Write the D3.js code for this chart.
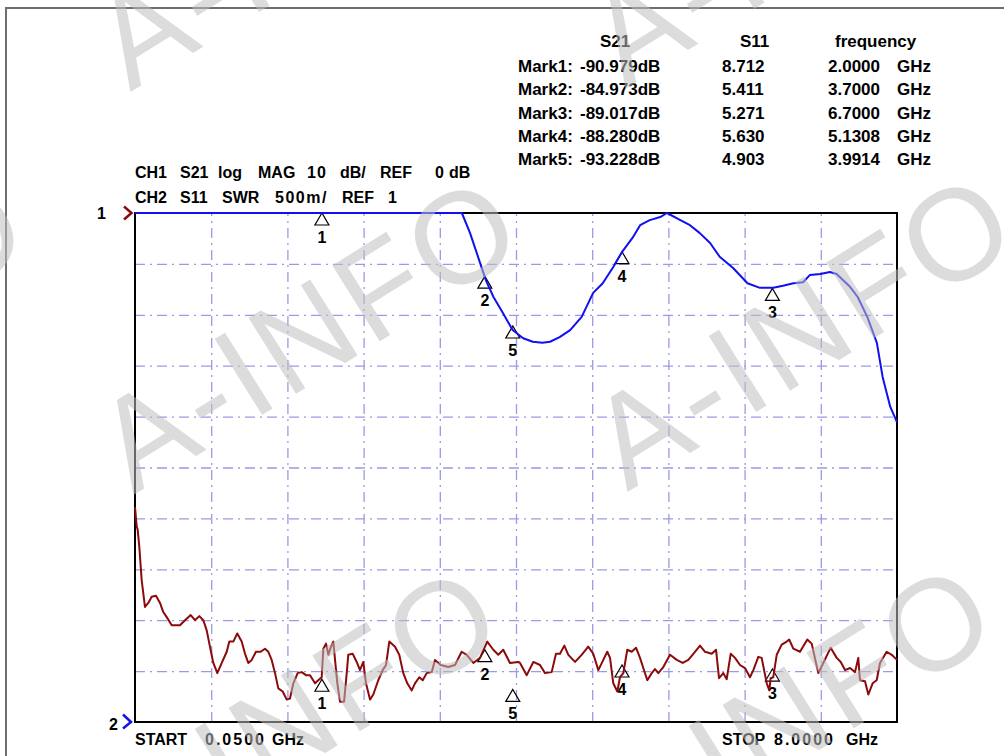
<!DOCTYPE html>
<html><head><meta charset="utf-8">
<script src="https://cdn.jsdelivr.net/npm/d3@7"></script>
<style>html,body{margin:0;padding:0;background:#fff;overflow:hidden}</style>
</head><body><svg id="c" width="1004" height="756"></svg>
<script>
// ---------------- DATA ----------------
const startGHz = 0.05, stopGHz = 8.0;
const ch1Label = ["CH1","S21","log","MAG","10","dB/","REF","0","dB"];
const ch2Label = ["CH2","S11","SWR","500m/","REF","1"];
const tableHeads = ["S21","S11","frequency"];
const markerNames = ["1","2","3","4","5"];
const markerFreq = [2.0, 3.7, 6.7, 5.1308, 3.9914];
const markerS21Disp = [0, -12.4, -14.8, -7.6, -22.2];   // dB (display)
const markerS11Disp = [1.42, 1.71, 1.52, 1.56, 1.32];   // SWR (display)
const readS21 = ["-90.979dB","-84.973dB","-89.017dB","-88.280dB","-93.228dB"];
const readS11 = ["8.712","5.411","5.271","5.630","4.903"];
const readFreq = ["2.0000","3.7000","6.7000","5.1308","3.9914"];
const startLabel = ["START","0.0500","GHz"];
const stopLabel = ["STOP","8.0000","GHz"];

// CH1 S21 trace: [GHz, dB]
const s21Trace = [[0.05,0],[3.46,0],[3.545,-3.9],[3.65,-9.8],[3.71,-13.2],[3.79,-16.5],[3.89,-19.7],
 [3.99,-23.0],[4.10,-24.6],[4.20,-25.3],[4.30,-25.5],[4.38,-25.3],[4.48,-24.4],[4.59,-23.0],[4.71,-20.4],
 [4.83,-15.7],[4.93,-13.8],[5.04,-10.6],[5.13,-7.7],[5.24,-4.9],[5.32,-2.4],[5.42,-1.4],[5.53,-0.8],
 [5.60,0],[5.74,-1.4],[5.84,-2.4],[5.94,-3.9],[6.05,-5.9],[6.15,-8.6],[6.29,-10.8],[6.44,-13.8],
 [6.57,-14.7],[6.71,-14.7],[6.81,-14.3],[6.92,-13.8],[7.02,-13.6],[7.09,-12.2],[7.20,-12.0],[7.30,-11.6],
 [7.37,-12.0],[7.51,-14.5],[7.59,-16.5],[7.69,-20.4],[7.79,-25.5],[7.85,-32.2],[7.93,-38.1],[8.0,-41.1]];

// CH2 S11 trace: [GHz, SWR]
const s11Trace = [[0.05,3.11],[0.068,2.92],[0.078,2.89],[0.095,2.72],[0.12,2.39],[0.137,2.26],[0.154,2.13],
 [0.189,2.17],[0.224,2.23],[0.269,2.24],[0.311,2.17],[0.345,2.08],[0.381,2.03],[0.433,1.95],[0.519,1.95],
 [0.572,2.00],[0.631,2.05],[0.676,2.00],[0.721,2.04],[0.763,2.00],[0.798,1.90],[0.832,1.74],[0.867,1.58],
 [0.909,1.48],[0.955,1.58],[1.007,1.69],[1.034,1.79],[1.076,1.79],[1.117,1.87],[1.163,1.79],[1.198,1.67],
 [1.232,1.58],[1.268,1.61],[1.312,1.69],[1.361,1.69],[1.406,1.72],[1.441,1.69],[1.476,1.61],[1.511,1.48],
 [1.545,1.33],[1.591,1.30],[1.633,1.22],[1.667,1.23],[1.702,1.38],[1.747,1.48],[1.789,1.49],[1.834,1.46],
 [1.876,1.46],[1.928,1.38],[1.962,1.41],[1.998,1.44],[2.015,1.72],[2.043,1.77],[2.067,1.66],[2.095,1.74],
 [2.119,1.79],[2.137,1.61],[2.161,1.38],[2.189,1.20],[2.231,1.20],[2.259,1.48],[2.275,1.66],[2.321,1.67],
 [2.363,1.59],[2.397,1.51],[2.432,1.59],[2.460,1.38],[2.502,1.22],[2.536,1.27],[2.588,1.41],[2.634,1.51],
 [2.669,1.56],[2.703,1.79],[2.763,1.74],[2.807,1.66],[2.849,1.48],[2.891,1.38],[2.937,1.31],[2.971,1.38],
 [3.016,1.44],[3.052,1.41],[3.093,1.48],[3.146,1.49],[3.180,1.61],[3.239,1.56],[3.319,1.54],[3.389,1.56],
 [3.458,1.69],[3.511,1.66],[3.580,1.58],[3.649,1.63],[3.725,1.79],[3.788,1.71],[3.840,1.66],[3.892,1.71],
 [3.962,1.58],[4.049,1.59],[4.067,1.58],[4.137,1.46],[4.206,1.59],[4.275,1.56],[4.328,1.48],[4.397,1.49],
 [4.442,1.67],[4.484,1.67],[4.529,1.75],[4.571,1.66],[4.641,1.59],[4.710,1.66],[4.779,1.74],[4.831,1.67],
 [4.884,1.51],[4.936,1.61],[4.977,1.69],[5.006,1.63],[5.040,1.38],[5.082,1.30],[5.110,1.44],[5.145,1.48],
 [5.186,1.71],[5.232,1.69],[5.277,1.73],[5.319,1.63],[5.353,1.53],[5.395,1.41],[5.441,1.48],[5.475,1.52],
 [5.510,1.48],[5.562,1.54],[5.632,1.66],[5.702,1.61],[5.764,1.58],[5.823,1.61],[5.875,1.67],[5.945,1.75],
 [5.997,1.69],[6.067,1.67],[6.112,1.71],[6.143,1.43],[6.188,1.48],[6.223,1.42],[6.265,1.67],[6.310,1.63],
 [6.362,1.56],[6.414,1.53],[6.466,1.44],[6.501,1.51],[6.553,1.64],[6.588,1.63],[6.641,1.38],[6.668,1.31],
 [6.682,1.43],[6.709,1.44],[6.745,1.66],[6.797,1.76],[6.849,1.79],[6.876,1.81],[6.918,1.72],[6.988,1.69],
 [7.064,1.81],[7.110,1.77],[7.179,1.48],[7.231,1.58],[7.308,1.73],[7.371,1.63],[7.413,1.59],[7.458,1.51],
 [7.510,1.53],[7.562,1.49],[7.596,1.63],[7.614,1.41],[7.666,1.40],[7.701,1.27],[7.746,1.38],[7.788,1.41],
 [7.823,1.58],[7.892,1.69],[7.945,1.66],[8.0,1.61]];

// ---------------- LAYOUT ----------------
const L = 135, R = 897, T = 213, B = 722;
const svg = d3.select("#c");
const font = "'Liberation Sans', Arial, sans-serif";

const x = d3.scaleLinear().domain([startGHz, stopGHz]).range([L, R]);
const y1 = d3.scaleLinear().domain([-100, 0]).range([B, T]);   // 10 dB/div, REF 0 dB at top
const y2 = d3.scaleLinear().domain([1, 6]).range([B, T]);      // 500m/div, REF 1 at bottom

// outer frame
svg.append("rect").attr("x", 6).attr("y", 8).attr("width", 1100).attr("height", 800)
  .attr("fill", "none").attr("stroke", "#6e6e6e").attr("stroke-width", 2);

// grid
const xTicks = d3.range(1, 10).map(i => startGHz + i * (stopGHz - startGHz) / 10);
const yTicks = d3.range(-90, 0, 10);
const gridColor = "#9a9ae6";
const gx = svg.append("g").attr("transform", `translate(0,${B})`)
  .call(d3.axisBottom(x).tickValues(xTicks).tickSize(-(B - T)).tickFormat(""));
const gy = svg.append("g").attr("transform", `translate(${L},0)`)
  .call(d3.axisLeft(y1).tickValues(yTicks).tickSize(-(R - L)).tickFormat(""));
[gx, gy].forEach(g => {
  g.select(".domain").remove();
  g.selectAll(".tick line").attr("stroke", gridColor).attr("stroke-width", 1.3)
    .attr("stroke-dasharray", "10,5,2,5");
});

// plot frame
svg.append("rect").attr("x", L).attr("y", T).attr("width", R - L).attr("height", B - T)
  .attr("fill", "none").attr("stroke", "#000").attr("stroke-width", 2);

// markers
function tri(px, py) {
  return `M${px},${py} L${px - 7},${py + 12} L${px + 7},${py + 12} Z`;
}
const mk = svg.append("g");
markerFreq.forEach((f, i) => {
  [[x(f), y1(markerS21Disp[i])], [x(f), y2(markerS11Disp[i])]].forEach(([px, py]) => {
    mk.append("path").attr("d", tri(px, py)).attr("fill", "none")
      .attr("stroke", "#000").attr("stroke-width", 1.2);
    mk.append("text").attr("x", px).attr("y", py + 30).attr("text-anchor", "middle")
      .attr("font-family", font).attr("font-weight", "bold").attr("font-size", 16)
      .attr("fill", "#000").text(markerNames[i]);
  });
});

// traces
svg.append("defs").append("clipPath").attr("id", "clip").append("rect")
  .attr("x", L - 2).attr("y", T - 2).attr("width", R - L + 4).attr("height", B - T + 4);
const lineS11 = d3.line().x(d => x(d[0])).y(d => y2(d[1]));
const lineS21 = d3.line().x(d => x(d[0])).y(d => y1(d[1]));
svg.append("path").attr("d", lineS11(s11Trace)).attr("fill", "none")
  .attr("stroke", "#8b0a0a").attr("stroke-width", 2).attr("stroke-linejoin", "round")
  .attr("clip-path", "url(#clip)");
svg.append("path").attr("d", lineS21(s21Trace)).attr("fill", "none")
  .attr("stroke", "#1010f0").attr("stroke-width", 2).attr("stroke-linejoin", "round")
  .attr("clip-path", "url(#clip)");

// reference markers on the left
svg.append("text").attr("x", 97).attr("y", y1(0) + 6).attr("font-family", font)
  .attr("font-weight", "bold").attr("font-size", 16).attr("fill", "#000").text("1");
svg.append("path").attr("d", `M124,${y1(0) - 6.5} L131.5,${y1(0)} L124,${y1(0) + 6.5}`)
  .attr("fill", "none").attr("stroke", "#8b0a0a").attr("stroke-width", 2.5);
svg.append("text").attr("x", 109).attr("y", y2(1) + 8).attr("font-family", font)
  .attr("font-weight", "bold").attr("font-size", 16).attr("fill", "#000").text("2");
svg.append("path").attr("d", `M123,${y2(1) - 7.5} L131,${y2(1)} L123,${y2(1) + 6.5}`)
  .attr("fill", "none").attr("stroke", "#1010f0").attr("stroke-width", 2.5);

// channel labels
function wordLine(words, xs, yb, size, ls) {
  const t = svg.append("text").attr("y", yb).attr("font-family", font)
    .attr("font-weight", "bold").attr("font-size", size).attr("fill", "#000");
  words.forEach((w, i) => t.append("tspan").attr("x", xs[i])
    .attr("letter-spacing", (ls && ls[i]) ? ls[i] : 0).text(w));
}
wordLine(ch1Label, [135, 180, 218, 258, 307, 340, 380, 435, 449], 178, 16, [0,0,0,0,1,0,0,0,0]);
wordLine(ch2Label, [135, 180, 222, 275, 342, 388], 203, 16, [0,0,0,1.5,0,0]);
wordLine(startLabel, [135, 205, 272], 745, 16, [0, 2, 0]);
wordLine(stopLabel, [722, 774, 846], 745, 16, [0, 2, 0]);

// marker readout table
const tb = svg.append("g").attr("font-family", font).attr("font-weight", "bold")
  .attr("font-size", 17).attr("fill", "#000");
[600, 740, 835].forEach((hx, i) => tb.append("text").attr("x", hx).attr("y", 47).text(tableHeads[i]));
markerNames.forEach((m, i) => {
  const yb = 72 + i * 23.3;
  tb.append("text").attr("x", 518).attr("y", yb).text(`Mark${m}:`);
  tb.append("text").attr("x", 580).attr("y", yb).text(readS21[i]);
  tb.append("text").attr("x", 722).attr("y", yb).text(readS11[i]);
  tb.append("text").attr("x", 828).attr("y", yb).text(readFreq[i]);
  tb.append("text").attr("x", 897).attr("y", yb).text("GHz");
});

// watermark overlay
const wmCenters = [[305,-72],[800,-75],[-186,331],[308,331],[802,328],[288,721],[782,718],[-206,721]];
const wm = svg.append("g").attr("pointer-events", "none");
wmCenters.forEach(([cx, cy]) => {
  wm.append("text").attr("transform", `translate(${cx},${cy}) rotate(-32)`)
    .attr("text-anchor", "middle").attr("dy", "0.36em")
    .attr("font-family", font).attr("font-size", 130).attr("letter-spacing", 5)
    .attr("fill", "rgb(190,190,190)").attr("fill-opacity", 0.54).text("A-INFO");
});
</script></body></html>
